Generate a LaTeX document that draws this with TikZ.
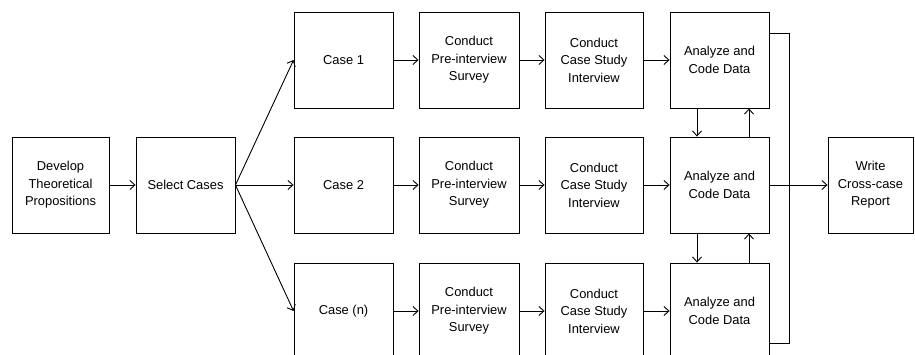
\documentclass[tikz,border=0pt]{standalone}
\usepackage{fontspec}
\setmainfont{Liberation Sans}
\usetikzlibrary{arrows.meta}
\begin{document}
\begin{tikzpicture}[x=1pt,y=-1pt,
  box/.style={draw,line width=0.9pt,minimum width=99pt,minimum height=96pt,inner sep=0pt,
    align=center,font=\fontsize{12.9pt}{17.5pt}\selectfont},
  conn/.style={line width=0.9pt},
  arr/.style={conn,-{Straight Barb[length=5pt,width=9pt]}}]
\useasboundingbox (0,0) rectangle (915,355);
\clip (0,0) rectangle (915,355);
\node[box,minimum width=97pt] (dev) at (60.5,185) {Develop\\Theoretical\\Propositions};
\node[box] (sel) at (185.5,185) {Select Cases};
\node[box] (c1) at (343.5,60) {Case 1};
\node[box] (c2) at (343.5,185) {Case 2};
\node[box] (cn) at (343.5,311) {Case (n)};
\node[box,minimum width=100pt] (p1) at (469,60) {Conduct\\Pre-interview\\Survey};
\node[box,minimum width=100pt] (p2) at (469,185) {Conduct\\Pre-interview\\Survey};
\node[box,minimum width=100pt] (pn) at (469,311) {Conduct\\Pre-interview\\Survey};
\node[box,minimum width=98pt] (s1) at (594,60) {Conduct\\Case Study\\Interview};
\node[box,minimum width=98pt] (s2) at (594,185) {Conduct\\Case Study\\Interview};
\node[box,minimum width=98pt] (sn) at (594,311) {Conduct\\Case Study\\Interview};
\node[box] (a1) at (719.5,60) {Analyze and\\Code Data};
\node[box] (a2) at (719.5,185) {Analyze and\\Code Data};
\node[box] (an) at (719.5,311) {Analyze and\\Code Data};
\node[box,minimum width=85pt] (w) at (870.5,185) {Write\\Cross-case\\Report};
\draw[arr] (dev) -- (sel);
\draw[arr] (sel.east) -- (c1.west);
\draw[arr] (sel.east) -- (c2.west);
\draw[arr] (sel.east) -- (cn.west);
\foreach \r in {1,2,n}{
  \draw[arr] (c\r) -- (p\r);
  \draw[arr] (p\r) -- (s\r);
  \draw[arr] (s\r) -- (a\r);
}
\draw[arr] ([xshift=-22.5pt]a1.south) -- ([xshift=-22.5pt]a2.north);
\draw[arr] ([xshift=29.5pt]a2.north) -- ([xshift=29.5pt]a1.south);
\draw[arr] ([xshift=-22.5pt]a2.south) -- ([xshift=-22.5pt]an.north);
\draw[arr] ([xshift=29.5pt]an.north) -- ([xshift=29.5pt]a2.south);
\coordinate (jt) at (789,33);
\coordinate (jb) at (789,343);
\draw[conn] (a1.east |- jt) -- (jt) -- (jb) -- (an.east |- jb);
\draw[conn] (a2.east) -- (a2.east -| jt);
\draw[arr] (a2.east -| jt) -- (w.west);
\end{tikzpicture}
\end{document}
